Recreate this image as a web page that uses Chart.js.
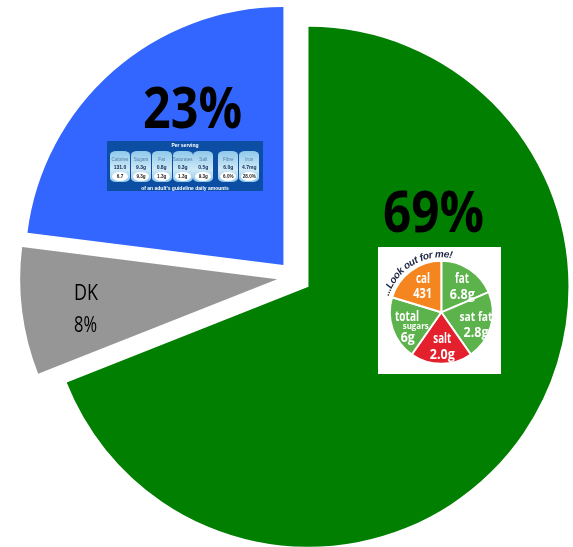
<!DOCTYPE html>
<html>
<head>
<meta charset="utf-8">
<title>Front of pack labels</title>
<script src="https://cdn.jsdelivr.net/npm/chart.js@4"></script>
<style>
  html, body { margin:0; padding:0; background:#fff; }
  #stage { position:relative; width:573px; height:547px; overflow:hidden; font-family:"Open Sans",sans-serif; }
  #stage canvas { position:absolute; display:block; }
  #lightBox { position:absolute; left:378px; top:247px; width:123px; height:127px; background:#fff; filter:blur(.45px); }
  #gda { position:absolute; left:107px; top:141px; width:156px; height:50px; background:#0b4ea4; color:#fff; overflow:hidden; }
  #gda .inner { position:absolute; inset:0; filter:blur(.45px); }
  #gda .line { position:absolute; left:0; width:100%; text-align:center; font:bold 5px "Liberation Sans",sans-serif; }
  #gda .panel { position:absolute; top:10px; width:20px; height:31px; border-radius:6px/4px; background:linear-gradient(#8fc8ea,#cfe9f7 60%,#8fc8ea); text-align:center; }
  #gda .name { position:absolute; left:-2px; right:-2px; top:6px; font:4.6px "Liberation Sans",sans-serif; color:#4d7ea6; }
  #gda .val { position:absolute; left:-2px; right:-2px; top:13px; font:bold 5px "Liberation Sans",sans-serif; color:#0c2a55; }
  #gda .pct { position:absolute; left:2px; width:16px; top:21px; height:9px; border-radius:50%; background:#fff; font:bold 4.6px/9px "Liberation Sans",sans-serif; color:#222; }
</style>
</head>
<body>
<div id="stage">
  <canvas id="mainPie" width="573" height="547"></canvas>
  <div id="lightBox"><canvas id="lightPie" width="123" height="127"></canvas></div>
  <div id="gda"><div class="inner" id="gdaInner"></div></div>
</div>
<script>
// main pie, clockwise from the top
const categories = ['Traffic light', 'DK', 'Per serving'];
const shares     = [69, 8, 23];
const colors     = ['#007f00', '#969696', '#3366ff'];

// traffic light inset
const lightNames  = ['fat', 'sat fat', 'salt', 'total sugars', 'cal'];
const lightShares = [67, 78, 70, 72, 73];
const lightColors = ['#5cb34c', '#5cb34c', '#e3202b', '#5cb34c', '#f5861f'];

// per serving inset
const gdaNames = ['Calories', 'Sugars', 'Fat', 'Saturates', 'Salt', 'Fibre', 'Iron'];
const gdaVals  = ['131.0', '9.3g', '0.8g', '0.3g', '0.5g', '6.0g', '4.7mg'];
const gdaPcts  = ['6.7', '9.3g', '1.3g', '1.3g', '9.3g', '6.0%', '28.0%'];
const gdaLeft  = [3, 24, 44.7, 65.7, 86.3, 111.3, 132.3];

// text squeezed to a given width, the source font is narrower than what is installed
function fitText(ctx, text, x, y, w, font, color, align){
  ctx.save();
  ctx.font = font;
  ctx.fillStyle = color;
  ctx.textBaseline = 'alphabetic';
  ctx.textAlign = 'left';
  const m = ctx.measureText(text).width;
  const sx = w ? w / m : 1;
  const left = align === 'center' ? x - m * sx / 2 : x;
  ctx.translate(left, y);
  ctx.scale(sx, 1);
  ctx.fillText(text, 0, 0);
  ctx.restore();
}

// the offset option tilts the slice edges and changes the radius, so pull the slices out here
const explode = [17.5, 17, 16];
const radii   = [260, 257, 258];
const explodeSlices = {
  id: 'explodeSlices',
  afterDatasetsUpdate(chart){
    chart.getDatasetMeta(0).data.forEach((arc, i) => {
      const mid = (arc.startAngle + arc.endAngle) / 2;
      arc.x += Math.cos(mid) * explode[i];
      arc.y += Math.sin(mid) * explode[i];
      arc.outerRadius = radii[i];
    });
  }
};

const mainLabels = {
  id: 'mainLabels',
  afterDatasetsDraw(chart){
    const ctx = chart.ctx;
    const big = 'bold 57px "Open Sans"';
    fitText(ctx, shares[0] + '%', 383, 232, 101, big, '#000');
    fitText(ctx, shares[2] + '%', 143, 128, 99, big, '#000');
    fitText(ctx, categories[1], 74, 300, 24, '21px "Open Sans"', '#000');
    fitText(ctx, shares[1] + '%', 74, 332, 23, '21px "Open Sans"', '#000');
  }
};

new Chart(document.getElementById('mainPie'), {
  type: 'pie',
  data: {
    labels: categories,
    datasets: [{ data: shares, backgroundColor: colors, borderWidth: 0, clip: false }]
  },
  options: {
    responsive: false,
    animation: false,
    radius: 260,
    layout: { padding: { left: 15, top: 7 } },
    plugins: { legend: { display: false }, tooltip: { enabled: false } }
  },
  plugins: [explodeSlices, mainLabels]
});

// text, centre x, baseline y, size, width
const lightText = [
  ['cal', 45, 35.7, 14, 14], ['431', 44.7, 51.3, 14, 19],
  ['fat', 84, 35.7, 14, 14], ['6.8g', 84.3, 52.3, 14, 25],
  ['sat fat', 98, 74, 13, 33], ['2.8g', 98, 89.7, 14, 25],
  ['salt', 64.3, 96.3, 14, 18], ['2.0g', 64.3, 112, 14, 25],
  ['total', 29, 74, 14, 24], ['sugars', 37.7, 82.3, 8, 26], ['6g', 29.7, 94.7, 14, 14]
];

function curvedText(ctx, text, cx, cy, r, fromDeg, toDeg, font){
  ctx.save();
  ctx.font = font;
  ctx.fillStyle = '#1b2440';
  ctx.textAlign = 'center';
  const widths = [...text].map(c => ctx.measureText(c).width);
  const total = widths.reduce((a, b) => a + b, 0);
  let done = 0;
  [...text].forEach((c, i) => {
    const deg = fromDeg + (toDeg - fromDeg) * (done + widths[i] / 2) / total;
    done += widths[i];
    ctx.save();
    ctx.translate(cx, cy);
    ctx.rotate(deg * Math.PI / 180);
    ctx.fillText(c, 0, -r);
    ctx.restore();
  });
  ctx.restore();
}

const lightLabels = {
  id: 'lightLabels',
  afterDatasetsDraw(chart){
    const ctx = chart.ctx;
    for (const [t, x, y, size, w] of lightText){
      fitText(ctx, t, x, y, w, 'bold ' + size + 'px "Open Sans"', '#fff', 'center');
    }
    const arc = chart.getDatasetMeta(0).data[0];
    curvedText(ctx, '...Look out for me!', arc.x, arc.y, 55, -73, 11, 'italic bold 10px "Liberation Sans"');
  }
};

new Chart(document.getElementById('lightPie'), {
  type: 'pie',
  data: {
    labels: lightNames,
    datasets: [{ data: lightShares, backgroundColor: lightColors, borderColor: '#fff', borderWidth: 2, clip: false }]
  },
  options: {
    responsive: false,
    animation: false,
    radius: 51.5,
    layout: { padding: { left: 3.6, top: 3.6 } },
    plugins: { legend: { display: false }, tooltip: { enabled: false } }
  },
  plugins: [lightLabels]
});

// per serving strip
const gda = document.getElementById('gdaInner');
function addLine(text, top){
  const d = document.createElement('div');
  d.className = 'line';
  d.style.top = top + 'px';
  d.textContent = text;
  gda.appendChild(d);
}
addLine('Per serving', 1);
addLine("of an adult's guideline daily amounts", 43.5);
gdaNames.forEach((name, i) => {
  const p = document.createElement('div');
  p.className = 'panel';
  p.style.left = gdaLeft[i] + 'px';
  for (const [cls, txt] of [['name', name], ['val', gdaVals[i]], ['pct', gdaPcts[i]]]){
    const s = document.createElement('div');
    s.className = cls;
    s.textContent = txt;
    p.appendChild(s);
  }
  gda.appendChild(p);
});
</script>
</body>
</html>
